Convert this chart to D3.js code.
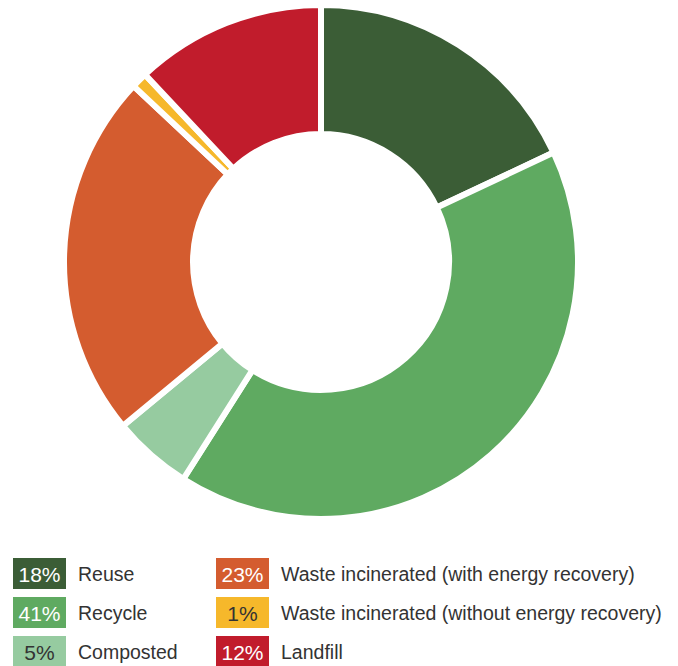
<!DOCTYPE html>
<html>
<head>
<meta charset="utf-8">
<script src="https://cdn.jsdelivr.net/npm/d3@7"></script>
<style>
  body { margin: 0; background: #fff; }
  svg { display: block; font-family: "Liberation Sans", Arial, Helvetica, sans-serif; }
</style>
</head>
<body>
<div id="chart"></div>
<script>
// data
var categories = ["Reuse", "Recycle", "Composted",
  "Waste incinerated (with energy recovery)",
  "Waste incinerated (without energy recovery)", "Landfill"];
var values = [18, 41, 5, 23, 1, 12];
var colors = ["#3b5d36", "#5faa61", "#96cba0", "#d45c2f", "#f6b82b", "#c11c2c"];
var labelColors = ["#fff", "#fff", "#333", "#fff", "#333", "#fff"];

var width = 678, height = 666;
var svg = d3.select("#chart").append("svg")
  .attr("width", width)
  .attr("height", height);

// donut
var pie = d3.pie().sort(null).value(function(d) { return d; });
var arc = d3.arc().innerRadius(128).outerRadius(257);

var g = svg.append("g").attr("transform", "translate(321,262)");
g.selectAll("path")
  .data(pie(values))
  .enter().append("path")
  .attr("d", arc)
  .attr("fill", function(d, i) { return colors[i]; })
  .attr("stroke", "#fff")
  .attr("stroke-width", 6)
  .attr("stroke-linejoin", "miter");

// legend, 3 rows x 2 columns
var legend = svg.append("g");
var items = legend.selectAll("g")
  .data(categories)
  .enter().append("g")
  .attr("transform", function(d, i) {
    var col = Math.floor(i / 3), row = i % 3;
    return "translate(" + (13 + col * 203) + "," + (558 + row * 39) + ")";
  });

items.append("rect")
  .attr("width", 53)
  .attr("height", 31)
  .attr("fill", function(d, i) { return colors[i]; });

items.append("text")
  .attr("x", 26.5)
  .attr("y", 16)
  .attr("dy", "0.36em")
  .attr("text-anchor", "middle")
  .attr("font-size", 21)
  .attr("fill", function(d, i) { return labelColors[i]; })
  .text(function(d, i) { return values[i] + "%"; });

items.append("text")
  .attr("x", 65)
  .attr("y", 16)
  .attr("dy", "0.36em")
  .attr("font-size", 19.5)
  .attr("fill", "#333")
  .text(function(d) { return d; });
</script>
</body>
</html>
